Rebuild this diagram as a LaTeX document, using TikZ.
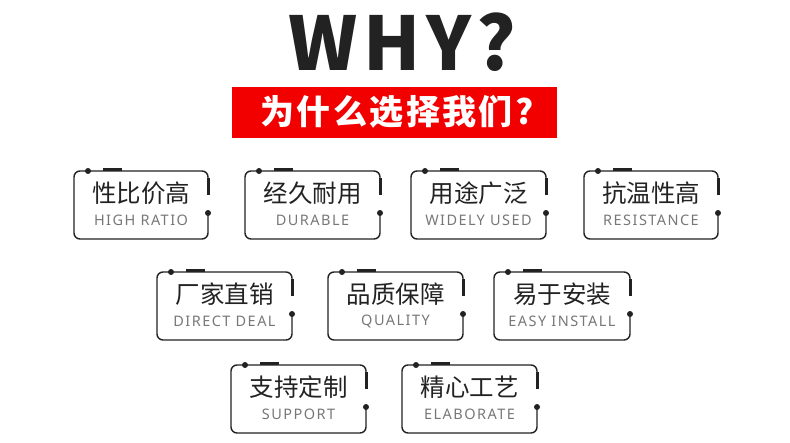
\documentclass[tikz,border=0pt]{standalone}
\usepackage{fontspec}
\newfontfamily\cjk{Noto Sans CJK SC}
\newfontfamily\cjkb[LetterSpace=7]{Noto Sans CJK SC Black}
\newfontfamily\ensf[LetterSpace=10]{Noto Sans}
\newfontfamily\titlef[LetterSpace=8]{Noto Sans CJK SC Black}
\definecolor{ink}{HTML}{222222}
\definecolor{redb}{HTML}{F20000}
\definecolor{gr}{HTML}{777777}
\tikzset{frame/.style={draw=ink,line width=1.4pt,rounded corners=6pt},
 thick bar/.style={draw=ink,line width=3pt},
 zh/.style={font=\cjk\fontsize{24.5}{25}\selectfont,text=ink},
 en/.style={font=\ensf\fontsize{14.5}{15}\selectfont,text=gr}}
\newcommand\featbox[5]{%
 \draw[frame] (#1+#3,#2+24) |- (#1+14,#2) -| (#1,#2+68) -| (#1+#3,#2+42);
 \fill[ink] (#1+14,#2) circle (3pt) (#1+#3,#2+42) circle (3pt);
 \draw[thick bar] (#1+29,#2-1.5) -- (#1+48,#2-1.5);
 \draw[thick bar] (#1+#3+0.5,#2+7) -- (#1+#3+0.5,#2+24);
 \node[zh] (#5zh) at (#1+#3/2,#2+22) {#4};
 \node[en] (#5en) at (#1+#3/2,#2+49) {#5};}
\begin{document}
\begin{tikzpicture}[x=1pt,y=-1pt]
\useasboundingbox (0,0) rectangle (790,443);
\node[font=\titlef\fontsize{74}{74}\selectfont,text=ink] (title) at (402,42) {WHY?};
\fill[redb] (232,87) rectangle (557,138);
\node[font=\cjkb\fontsize{34}{34}\selectfont,text=white] (banner) at (397,112) {为什么选择我们?};
\featbox{74}{171}{134}{性比价高}{HIGH RATIO}
\featbox{245}{171}{135}{经久耐用}{DURABLE}
\featbox{411}{171}{135}{用途广泛}{WIDELY USED}
\featbox{584}{171}{134}{抗温性高}{RESISTANCE}
\featbox{157}{272}{135}{厂家直销}{DIRECT DEAL}
\featbox{328}{272}{135}{品质保障}{QUALITY}
\featbox{494}{272}{136}{易于安装}{EASY INSTALL}
\featbox{231}{365}{135}{支持定制}{SUPPORT}
\featbox{402}{365}{135}{精心工艺}{ELABORATE}
\end{tikzpicture}
\end{document}
